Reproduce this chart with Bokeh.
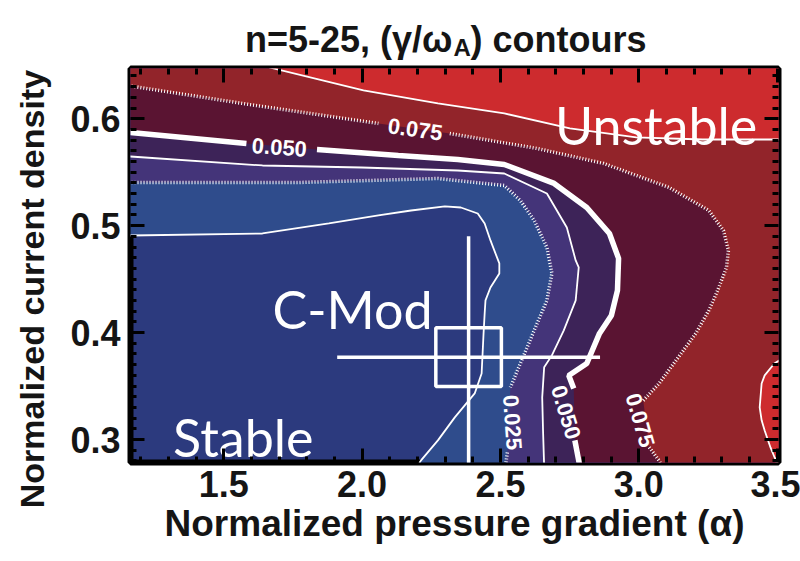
import math
from bokeh.plotting import figure
from bokeh.models import Range1d, FixedTicker, LinearAxis
from bokeh.layouts import column
from bokeh.core.properties import value
from bokeh.embed import file_html
from bokeh.resources import INLINE

nan = float("nan")

# ---------------- data ----------------
x_lim = [1.163, 3.505]
y_lim = [0.2785, 0.647]

x_major = [1.5, 2.0, 2.5, 3.0, 3.5]
x_labels = ["1.5", "2.0", "2.5", "3.0", "3.5"]
x_minor = [1.2, 1.3, 1.4, 1.6, 1.7, 1.8, 1.9, 2.1, 2.2, 2.3, 2.4, 2.6, 2.7, 2.8, 2.9,
           3.1, 3.2, 3.3, 3.4]
y_major = [0.3, 0.4, 0.5, 0.6]
y_labels = ["0.3", "0.4", "0.5", "0.6"]
y_minor = [0.28, 0.29, 0.31, 0.32, 0.33, 0.34, 0.35, 0.36, 0.37, 0.38, 0.39,
           0.41, 0.42, 0.43, 0.44, 0.45, 0.46, 0.47, 0.48, 0.49,
           0.51, 0.52, 0.53, 0.54, 0.55, 0.56, 0.57, 0.58, 0.59,
           0.61, 0.62, 0.63, 0.64]

levels = [0.0125, 0.025, 0.0375, 0.05, 0.075, 0.1]
band_colors = ["#2C3A7E", "#2F4C8C", "#443479", "#3D2358", "#5A1432", "#92242A", "#CD2B2E"]

# contour lines (nan = gap for the inline label)
c0125_x = [1.145, 1.163, 1.640, 1.880, 2.059, 2.177, 2.299, 2.357, 2.418, 2.443, 2.464, 2.496,
           2.496, 2.464, 2.446, 2.443, 2.439, 2.432, 2.407, 2.335, 2.274, 2.213, 2.199]
c0125_y = [0.4908, 0.4908, 0.4927, 0.5021, 0.5096, 0.5142, 0.5180, 0.5170, 0.5114, 0.5021, 0.4862,
           0.4647, 0.4553, 0.4422, 0.4301, 0.4179, 0.3992, 0.3618, 0.3431, 0.3207, 0.2992, 0.2805,
           0.2748]

c025_x = [1.145, 1.163, 1.772, 2.274, 2.514, 2.572, 2.622, 2.668, 2.686, 2.668, 2.622, 2.572,
          2.536, nan, 2.525, 2.518]
c025_y = [0.5404, 0.5404, 0.5404, 0.5441, 0.5376, 0.5236, 0.5049, 0.4796, 0.4553, 0.4301, 0.4020,
          0.3711, 0.3487, nan, 0.2879, 0.2748]

c0375_x = [1.145, 1.163, 1.640, 1.998, 2.346, 2.514, 2.668, 2.740, 2.772, 2.783, 2.772, 2.729,
           2.686, 2.658, 2.651, 2.654, 2.658]
c0375_y = [0.5647, 0.5647, 0.5563, 0.5544, 0.5516, 0.5488, 0.5301, 0.4983, 0.4675, 0.4610, 0.4301,
           0.4021, 0.3787, 0.3675, 0.3394, 0.3085, 0.2748]

c050_x = [1.145, 1.163, 1.582, nan, 1.837, 2.131, 2.346, 2.514, 2.694, 2.812, 2.894, 2.927, 2.923,
          2.901, 2.858, 2.812, 2.747, 2.765, nan, 2.769, 2.787]
c050_y = [0.5880, 0.5872, 0.5769, nan, 0.5713, 0.5657, 0.5619, 0.5572, 0.5395, 0.5170, 0.4927,
          0.4694, 0.4394, 0.4160, 0.3992, 0.3711, 0.3599, 0.3478, nan, 0.2992, 0.2748]

c075_x = [1.145, 1.174, 1.593, 2.059, nan, 2.317, 2.633, 2.873, 3.109, 3.253, 3.306, 3.324, 3.317,
          3.285, 3.253, 3.206, 3.134, 3.073, 3.016, nan, 3.038, 3.073, 3.084]
c075_y = [0.6311, 0.6302, 0.6133, 0.5956, nan, 0.5862, 0.5722, 0.5582, 0.5358, 0.5142, 0.4955,
          0.4768, 0.4610, 0.4394, 0.4207, 0.3992, 0.3738, 0.3523, 0.3364, nan, 0.2927, 0.2804,
          0.2748]

c100_x = [1.640, 1.665, 2.005, 2.274, 2.514, 2.751, 2.991, 3.231, 3.520]
c100_y = [0.654, 0.648, 0.6265, 0.6143, 0.6050, 0.5909, 0.5825, 0.5806, 0.5806]

c100b_x = [3.520, 3.490, 3.455, 3.444, 3.437, 3.444, 3.455, 3.476, 3.491, 3.505]
c100b_y = [0.3758, 0.3711, 0.3600, 0.3524, 0.3300, 0.3180, 0.3085, 0.2926, 0.2832, 0.2750]

# inline contour labels
clab_text = ["0.050", "0.075", "0.025", "0.050", "0.075"]
clab_x = [1.701, 2.192, 2.543, 2.737, 3.005]
clab_y = [0.5732, 0.5900, 0.3160, 0.3254, 0.3180]
clab_angle = [-0.07, -0.14, -1.50, -1.27, -1.29]

# region annotations
region_text = ["Unstable", "C-Mod", "Stable"]
region_x = [2.697, 1.676, 1.317]
region_y = [0.5937, 0.4225, 0.3019]

# C-Mod operating point with uncertainties
meas_x = [2.385]
meas_y = [0.377]
meas_xerr = [0.475]
meas_yerr = [0.113]
box_w = [0.237]
box_h = [0.055]

title_parts = ["n=5-25, (γ/ω", "A", ") contours"]
x_title = "Normalized pressure gradient (α)"
y_title = "Normalized current density"

FONT = "Liberation Sans"
INK = "#151515"

FR_L, FR_R, FR_T = 130, 778, 68   # frame edges (pixels)
TH = 63                           # height of the title strip

# ---------------- title strip ----------------
# in a column, Bokeh aligns this strip's frame with the main frame, so the
# strip's x range spans the same pixels (130..778) and its units are pixels
tf = figure(width=800, height=TH, x_range=Range1d(FR_L, FR_R), y_range=Range1d(TH, 0),
            output_backend="svg", toolbar_location=None, x_axis_type=None, y_axis_type=None,
            title=None, min_border_left=0, min_border_right=0, min_border_top=0,
            min_border_bottom=0)
tf.outline_line_color = None
tf.xgrid.grid_line_color = None
tf.ygrid.grid_line_color = None
tf.background_fill_color = "white"
tf.border_fill_color = "white"
tf.text([452], [39], text=[title_parts[0]], text_align="right", text_baseline="alphabetic",
        text_font=value(FONT), text_font_style="bold", text_font_size="36px", text_color=INK)
tf.text([453], [47], text=[title_parts[1]], text_align="left", text_baseline="alphabetic",
        text_font=value(FONT), text_font_style="bold", text_font_size="24px", text_color=INK)
tf.text([470], [39], text=[title_parts[2]], text_align="left", text_baseline="alphabetic",
        text_font=value(FONT), text_font_style="bold", text_font_size="36px", text_color=INK)

# ---------------- main figure ----------------
p = figure(width=800, height=561 - TH, x_range=Range1d(*x_lim), y_range=Range1d(*y_lim),
           output_backend="svg", toolbar_location=None,
           min_border_left=FR_L, min_border_right=800 - FR_R, min_border_top=FR_T - TH,
           min_border_bottom=99)
p.background_fill_color = band_colors[0]
p.border_fill_color = "white"
p.outline_line_color = "black"
p.outline_line_width = 6
p.xgrid.grid_line_color = None
p.ygrid.grid_line_color = None

XLO, XHI, YLO, YHI = 1.0, 3.7, 0.2, 0.7


def clean(xs, ys):
    return [(a, b) for a, b in zip(xs, ys) if not (math.isnan(a) or math.isnan(b))]


def above_region(xs, ys):
    pts = clean(xs, ys)
    pts += [(pts[-1][0], YLO), (XHI, YLO), (XHI, YHI), (XLO, YHI), (XLO, pts[0][1])]
    return [a for a, _ in pts], [b for _, b in pts]


def top_region(xs, ys):
    pts = clean(xs, ys)
    pts += [(XHI, pts[-1][1]), (XHI, YHI), (pts[0][0], YHI)]
    return [a for a, _ in pts], [b for _, b in pts]


def right_region(xs, ys):
    pts = clean(xs, ys)
    pts += [(XHI, YLO), (XHI, pts[0][1])]
    return [a for a, _ in pts], [b for _, b in pts]


stack = [(c0125_x, c0125_y, above_region), (c025_x, c025_y, above_region),
         (c0375_x, c0375_y, above_region), (c050_x, c050_y, above_region),
         (c075_x, c075_y, above_region), (c100_x, c100_y, top_region)]
for i, (xs, ys, fn) in enumerate(stack):
    px, py = fn(xs, ys)
    p.patch(px, py, fill_color=band_colors[i + 1], line_color=None)
bx, by = right_region(c100b_x, c100b_y)
p.patch(bx, by, fill_color=band_colors[6], line_color=None)

# contour lines
thin = dict(line_color="white", line_width=1.8)
dotted = dict(line_color="white", line_width=3.5, line_dash="1 2")
thick = dict(line_color="white", line_width=5.5)
p.line(c0125_x, c0125_y, **thin)
p.line(c025_x, c025_y, **dotted)
p.line(c0375_x, c0375_y, **thin)
p.line(c050_x, c050_y, **thick)
p.line(c075_x, c075_y, **dotted)
p.line(c100_x, c100_y, **thin)
p.line(c100b_x, c100b_y, **thin)

p.text(clab_x, clab_y, text=clab_text, angle=clab_angle, text_color="white",
       text_font=value(FONT), text_font_style="bold", text_font_size="22px",
       text_align="center", text_baseline="middle")

p.text(region_x, region_y, text=region_text, text_color="white", text_font=value("Lato"),
       text_font_size="52px", text_align="left", text_baseline="alphabetic")

# measurement
p.segment([meas_x[0] - meas_xerr[0]], meas_y, [meas_x[0] + meas_xerr[0]], meas_y,
          line_color="white", line_width=3.5)
p.segment(meas_x, [meas_y[0] - meas_yerr[0] - 0.02], meas_x, [meas_y[0] + meas_yerr[0]],
          line_color="white", line_width=3.5)
p.rect(meas_x, meas_y, width=box_w, height=box_h, fill_color=None, line_color="white",
       line_width=3.5)

# axes
xt = FixedTicker(ticks=x_major, minor_ticks=x_minor)
yt = FixedTicker(ticks=y_major, minor_ticks=y_minor)
bottom = p.below[0]
left = p.left[0]
top = LinearAxis(ticker=xt)
right = LinearAxis(ticker=yt)
p.add_layout(top, "above")
p.add_layout(right, "right")
bottom.ticker = xt
left.ticker = yt
for ax in (bottom, left, top, right):
    ax.axis_line_color = None
    ax.major_tick_in = 14
    ax.major_tick_out = 0
    ax.minor_tick_in = 6
    ax.minor_tick_out = 0
    ax.major_tick_line_width = 3
    ax.minor_tick_line_width = 3
    ax.major_tick_line_color = "black"
    ax.minor_tick_line_color = "black"
    ax.major_label_text_font = FONT
    ax.major_label_text_font_style = "bold"
    ax.major_label_text_font_size = "36px"
    ax.major_label_text_color = INK
    ax.axis_label_text_font = FONT
    ax.axis_label_text_font_style = "bold"
    ax.axis_label_text_color = INK

bottom.major_label_overrides = dict(zip(x_major, x_labels))
left.major_label_overrides = dict(zip(y_major, y_labels))
bottom.major_label_standoff = 8
left.major_label_standoff = 10
for ax in (top, right):
    ax.major_label_text_color = None
    ax.major_label_text_font_size = "1px"
    ax.major_label_standoff = 0

bottom.axis_label = x_title
bottom.axis_label_text_font_size = "37px"
bottom.axis_label_standoff = 3
left.axis_label = y_title + "\u00a0" * 5
left.axis_label_text_font_size = "34px"
left.axis_label_standoff = 16

layout = column(tf, p, spacing=0)
open("out.html", "w").write(file_html(layout, INLINE))
